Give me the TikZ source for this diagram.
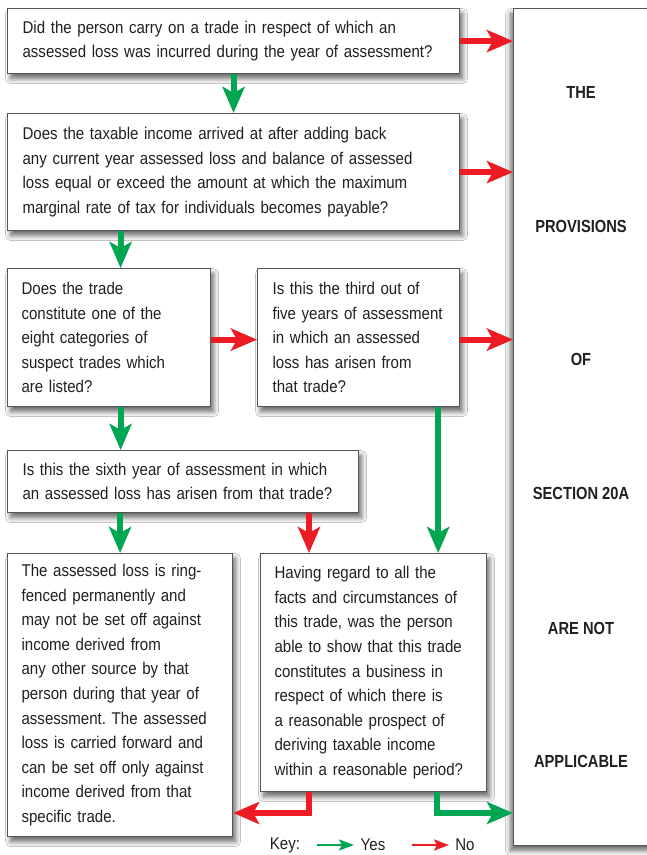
\documentclass[tikz,border=0pt]{standalone}
\usepackage{fontspec}
\setmainfont[FakeStretch=0.885]{Liberation Sans}
\newfontfamily\condfont[FakeStretch=0.84]{Liberation Sans}
\usetikzlibrary{arrows.meta,shadows.blur,calc}
\definecolor{ygreen}{RGB}{0,166,81}
\definecolor{nred}{RGB}{237,28,36}
\definecolor{bordergray}{RGB}{85,85,85}
\definecolor{textgray}{RGB}{35,31,32}
\frenchspacing
\begin{document}
\begin{tikzpicture}[x=1pt,y=-1pt,
  box/.style={draw=bordergray, line width=1.2pt, fill=white, anchor=north west,
    inner xsep=15pt, inner ysep=0pt, align=left,
    font=\fontsize{17}{24.6}\selectfont, text=textgray,
    blur shadow={shadow xshift=3pt, shadow yshift=-5pt, shadow blur steps=8, shadow blur radius=5pt, shadow opacity=60}},
  yes/.style={draw=ygreen, line width=6pt, -{Stealth[length=26pt,width=22pt,inset=6pt]}},
  no/.style={draw=nred, line width=6pt, -{Stealth[length=26pt,width=22pt,inset=6pt]}},
  keyyes/.style={draw=ygreen, line width=2.5pt, -{Stealth[length=15pt,width=11pt,inset=3pt]}},
  keyno/.style={draw=nred, line width=2.5pt, -{Stealth[length=15pt,width=11pt,inset=3pt]}},
  rtext/.style={font=\condfont\bfseries\fontsize{17.5}{20}\selectfont, text=textgray},
  keytext/.style={font=\fontsize{17}{20}\selectfont, text=textgray}]
\useasboundingbox (0,0) rectangle (647,855);
\fill[white] (0,0) rectangle (647,855);

% right column
\node[draw=bordergray, line width=1.2pt, fill=white, anchor=north west,
  minimum width=140pt, minimum height=837pt, inner sep=0pt,
  blur shadow={shadow xshift=-3pt, shadow yshift=-5pt, shadow blur steps=8, shadow blur radius=5pt, shadow opacity=60}] (R) at (513,8) {};
\node[rtext] (t1) at (581,92) {THE};
\node[rtext] (t2) at (581,226) {PROVISIONS};
\node[rtext] (t3) at (581,359) {OF};
\node[rtext] (t4) at (581,493) {SECTION 20A};
\node[rtext] (t5) at (581,628) {ARE NOT};
\node[rtext] (t6) at (581,761) {APPLICABLE};

% boxes
\node[box, minimum width=452pt, minimum height=65pt, text width=422pt] (b1) at (7,8)
 {Did the person carry on a trade in respect of which an\\assessed loss was incurred during the year of assessment?};
\node[box, minimum width=452pt, minimum height=117pt, text width=422pt] (b2) at (7,113)
 {Does the taxable income arrived at after adding back\\any current year assessed loss and balance of assessed\\loss equal or exceed the amount at which the maximum\\marginal rate of tax for individuals becomes payable?};
\node[box, minimum width=203pt, minimum height=138pt, text width=175pt, inner xsep=14pt] (b3) at (7,268)
 {Does the trade\\constitute one of the\\eight categories of\\suspect trades which\\are listed?};
\node[box, minimum width=202pt, minimum height=138pt, text width=178pt, inner xsep=12pt] (b4) at (257,268)
 {\hspace*{3pt}Is this the third out of\\\hspace*{3pt}five years of assessment\\\hspace*{3pt}in which an assessed\\\hspace*{3pt}loss has arisen from\\\hspace*{3pt}that trade?};
\node[box, minimum width=351pt, minimum height=62pt, text width=321pt] (b5) at (7,450)
 {Is this the sixth year of assessment in which\\an assessed loss has arisen from that trade?};
\node[box, minimum width=225pt, minimum height=283pt, text width=197pt, inner xsep=14pt] (b6) at (7,553)
 {The assessed loss is ring-\\fenced permanently and\\may not be set off against\\income derived from\\any other source by that\\person during that year of\\assessment. The assessed\\loss is carried forward and\\can be set off only against\\income derived from that\\specific trade.};
\node[box, minimum width=226pt, minimum height=238pt, text width=198pt, inner xsep=14pt] (b7) at (260,553)
 {Having regard to all the\\facts and circumstances of\\this trade, was the person\\able to show that this trade\\constitutes a business in\\respect of which there is\\a reasonable prospect of\\deriving taxable income\\within a reasonable period?};

% connectors
\draw[yes] (b1.south) -- (b2.north);
\draw[no] (b1.east) -- (b1.east -| R.west);
\draw[no] (b2.east) -- (b2.east -| R.west);
\draw[yes] ([xshift=11.5pt]b3.north |- b2.south) -- ([xshift=11.5pt]b3.north);
\draw[no] ([yshift=-2pt]b3.east) -- ([yshift=-2pt]b4.west);
\draw[no] ([yshift=-2pt]b4.east) -- ([yshift=-2pt]b4.east -| R.west);
\draw[yes] ([xshift=11.5pt]b3.south) -- ([xshift=11.5pt]b3.south |- b5.north);
\draw[yes] ([xshift=-22pt]b4.south east) -- ([xshift=-22pt]b4.south east |- b7.north);
\draw[yes] (b6.north |- b5.south) -- (b6.north);
\draw[no] ([xshift=49pt]b7.north west |- b5.south) -- ([xshift=49pt]b7.north west);
\coordinate (bend) at (0,813);
\draw[no] ([xshift=49pt]b7.south west) |- (b6.east |- bend);
\draw[yes] ([xshift=177pt]b7.south west) |- (R.west |- bend);

% key
\node[keytext] (key) at (285,845) {Key:};
\coordinate (ya) at (317,845);
\coordinate (yb) at (354,845);
\draw[keyyes] (ya) -- (yb);
\node[keytext] (kyes) at (373,845) {Yes};
\coordinate (na) at (412,845);
\coordinate (nb) at (449,845);
\draw[keyno] (na) -- (nb);
\node[keytext] (kno) at (465,845) {No};
\end{tikzpicture}
\end{document}
